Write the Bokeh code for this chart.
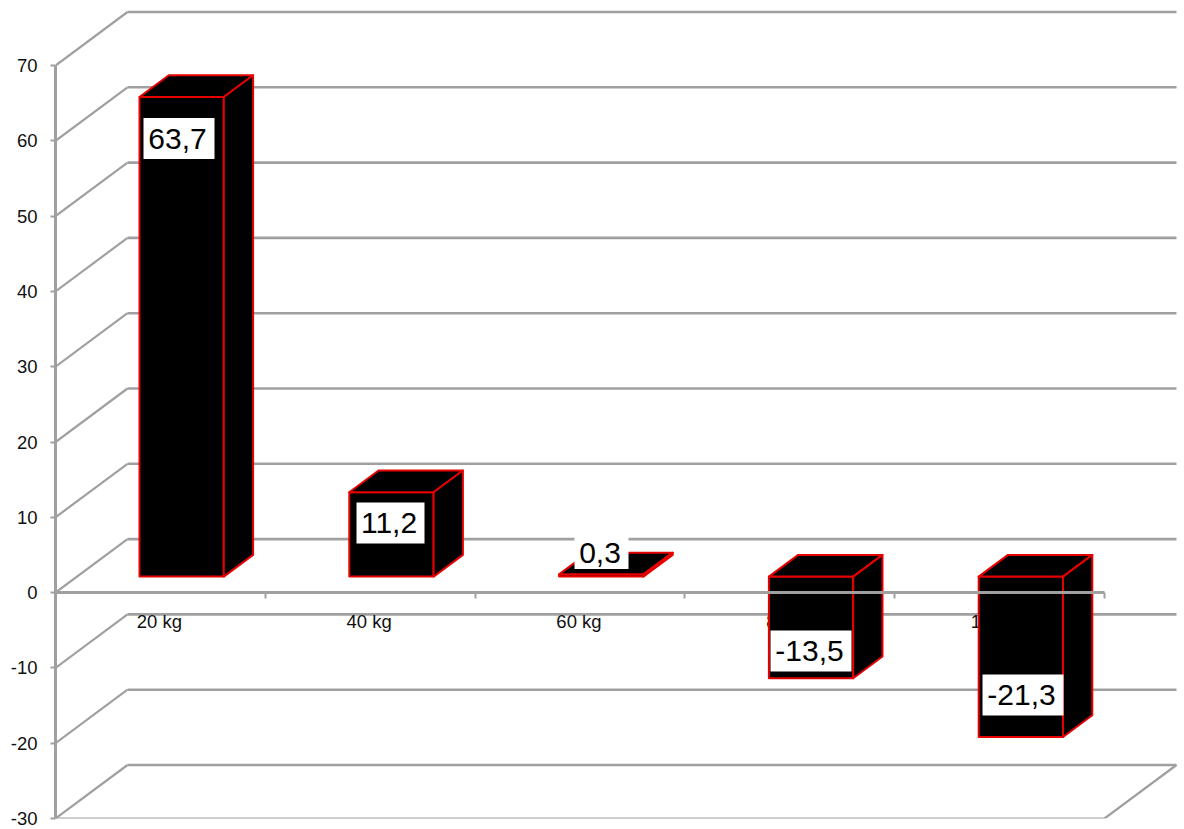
from bokeh.core.properties import value
from bokeh.embed import file_html
from bokeh.models import FixedTicker, LinearAxis, Range1d
from bokeh.plotting import figure
from bokeh.resources import INLINE

# Chart data
categories = ["20 kg", "40 kg", "60 kg", "80 kg", "100 kg"]
values = [63.7, 11.2, 0.3, -13.5, -21.3]
value_labels = ["63,7", "11,2", "0,3", "-13,5", "-21,3"]
y_ticks = [-30, -20, -10, 0, 10, 20, 30, 40, 50, 60, 70]

# Scale: pixels per category and per value unit
PX_CAT = 209.8
PX_VAL = 7.53
FONT = "Liberation Sans"
GRID = "#a0a0a0"
EDGE = "#e60000"


def cat(px):
    return px / PX_CAT


def val(px):
    return px / PX_VAL


# Depth of the chart box and of each column, in data units
WALL_DX, WALL_DY = cat(72), val(53.5)
BAR_DX, BAR_DY = cat(29.3), val(21.7)
BAR_OFFSET = cat(84)
BAR_WIDTH = cat(84.3)
BAR_LIFT = val(16)
n = len(categories)

p = figure(
    width=1184,
    height=829,
    x_range=Range1d(0, cat(1184 - 55)),
    y_range=Range1d(-30, -30 + val(818)),
    x_axis_type=None,
    y_axis_type=None,
    toolbar_location=None,
    output_backend="svg",
    min_border_left=55,
    min_border_right=0,
    min_border_top=0,
    min_border_bottom=11,
    outline_line_color=None,
    background_fill_color="white",
    border_fill_color="white",
)

# Back wall lines and their diagonals along the side wall
p.segment(
    x0=[WALL_DX] * len(y_ticks),
    x1=[n + WALL_DX] * len(y_ticks),
    y0=[t + WALL_DY for t in y_ticks],
    y1=[t + WALL_DY for t in y_ticks],
    line_color=GRID,
    line_width=2.6,
    level="underlay",
)
p.segment(
    x0=[0] * len(y_ticks),
    x1=[WALL_DX] * len(y_ticks),
    y0=y_ticks,
    y1=[t + WALL_DY for t in y_ticks],
    line_color=GRID,
    line_width=2.2,
    level="underlay",
)

# Floor edges
p.line(
    x=[0, n, n + WALL_DX],
    y=[-30, -30, -30 + WALL_DY],
    line_color=GRID,
    line_width=2.2,
    level="underlay",
)

# Value axis
y_axis = LinearAxis(
    ticker=FixedTicker(ticks=y_ticks),
    bounds=(-30, 70),
    major_label_overrides={t: str(t) for t in y_ticks},
    axis_line_color=GRID,
    axis_line_width=3,
    major_tick_line_color=GRID,
    major_tick_line_width=2,
    major_tick_in=0,
    major_tick_out=5,
    minor_tick_line_color=None,
    major_label_standoff=13,
    major_label_text_font=FONT,
    major_label_text_font_size="18.5px",
    major_label_text_color="#111111",
)
p.add_layout(y_axis, "left")

# Category labels sit beneath the columns
label_ticks = [i + 0.5 - cat(1) for i in range(n)]
label_axis = LinearAxis(
    ticker=FixedTicker(ticks=label_ticks),
    fixed_location=0,
    major_label_overrides=dict(zip(label_ticks, categories)),
    axis_line_color=None,
    major_tick_line_color=None,
    minor_tick_line_color=None,
    major_tick_out=0,
    major_tick_in=0,
    major_label_standoff=18,
    major_label_text_font=FONT,
    major_label_text_font_size="18.5px",
    major_label_text_color="#111111",
    level="underlay",
)
p.add_layout(label_axis, "below")

# Columns: front, top and side faces, raised slightly off the floor line
for i, v in enumerate(values):
    x0 = i + BAR_OFFSET
    x1 = x0 + BAR_WIDTH
    y_hi = max(v, 0) + BAR_LIFT
    y_lo = min(v, 0) + BAR_LIFT
    faces_x = [
        [x0, x1, x1, x0],
        [x0, x1, x1 + BAR_DX, x0 + BAR_DX],
        [x1, x1 + BAR_DX, x1 + BAR_DX, x1],
    ]
    faces_y = [
        [y_lo, y_lo, y_hi, y_hi],
        [y_hi, y_hi, y_hi + BAR_DY, y_hi + BAR_DY],
        [y_lo, y_lo + BAR_DY, y_hi + BAR_DY, y_hi],
    ]
    p.patches(
        faces_x,
        faces_y,
        fill_color="black",
        line_color=EDGE,
        line_width=2,
        line_join="round",
    )

# Category axis line and ticks run across the columns
line_axis = LinearAxis(
    ticker=FixedTicker(ticks=list(range(n + 1))),
    fixed_location=0,
    bounds=(0, n),
    major_label_text_font_size="0px",
    major_label_text_color=None,
    axis_line_color=GRID,
    axis_line_width=3,
    major_tick_line_color=GRID,
    major_tick_line_width=2,
    major_tick_in=0,
    major_tick_out=6,
    minor_tick_line_color=None,
    level="overlay",
)
p.add_layout(line_axis, "below")

# Value captions on white plates, placed relative to each column
plate_px_x = [178.5, 390, 601, 810.5, 1022.5]
plate_px_y = [138, 522.5, 552, 650.5, 694.5]
plate_px_w = [71, 68, 54, 81, 81]
plate_px_h = [41, 41, 33, 41, 41]
plate_x = [cat(a - 55) for a in plate_px_x]
plate_y = [-30 + val(818 - a) for a in plate_px_y]
p.rect(
    x=plate_x,
    y=plate_y,
    width=plate_px_w,
    height=plate_px_h,
    width_units="screen",
    height_units="screen",
    fill_color="white",
    line_color=None,
    level="overlay",
)
p.text(
    x=[a - cat(1.5) for a in plate_x],
    y=plate_y,
    text=value_labels,
    text_font=value(FONT),
    text_font_size="30px",
    text_color="black",
    text_align="center",
    text_baseline="middle",
    level="overlay",
)

with open("out.html", "w") as fh:
    fh.write(file_html(p, INLINE))
